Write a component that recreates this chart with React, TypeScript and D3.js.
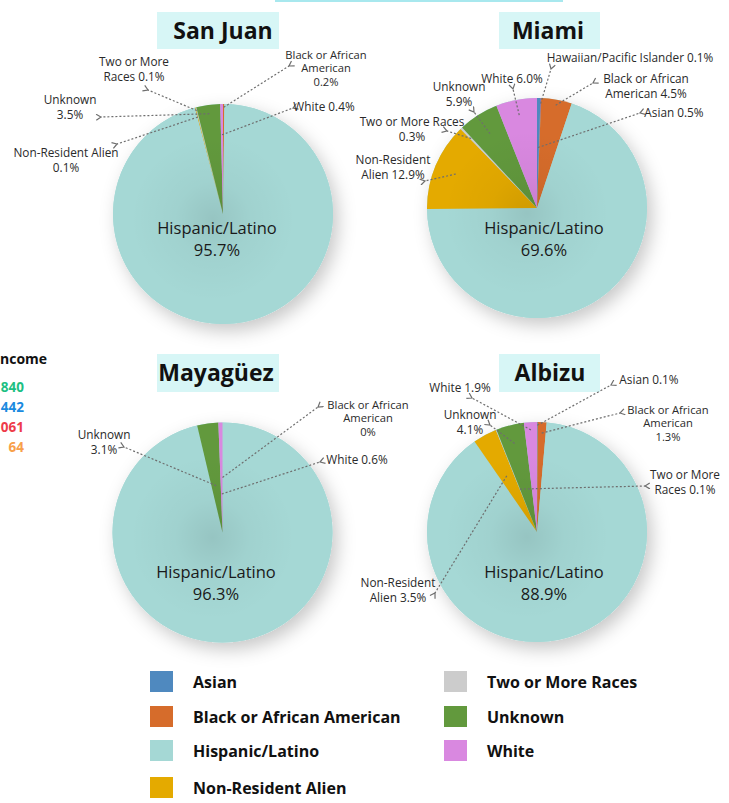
import React from 'react';
import * as d3 from 'd3';

// category order = drawing order (clockwise from 12 o'clock)
const categories = [
  'Asian',
  'Hawaiian/Pacific Islander',
  'Black or African American',
  'Hispanic/Latino',
  'Non-Resident Alien',
  'Two or More Races',
  'Unknown',
  'White',
];
const colors = ['#4f89bf', '#7b5aa6', '#d66c2b', '#a5d8d5', '#e4aa00', '#cccccc', '#62993d', '#d988e0'];

const sanJuanValues = [0, 0, 0.2, 95.7, 0.1, 0.1, 3.5, 0.4];
const miamiValues = [0.5, 0.1, 4.5, 69.6, 12.9, 0.3, 5.9, 6.0];
const mayaguezValues = [0, 0, 0, 96.3, 0, 0, 3.1, 0.6];
const albizuValues = [0.1, 0, 1.3, 88.9, 3.5, 0.1, 4.1, 1.9];

const legendLeft = ['Asian', 'Black or African American', 'Hispanic/Latino', 'Non-Resident Alien'];
const legendRight = ['Two or More Races', 'Unknown', 'White'];

// side panel that is cut by the left edge: only the visible part is drawn
const incomeTitle = 'ncome';
const incomeValues = ['840', '442', '061', '64'];
const incomeColors = ['#1dbf82', '#1a8ae0', '#ee3b4a', '#f8a04a'];

type Note = { cat: string; lines: string[]; x: number; y: number; tip: [number, number]; r: number };

const pies = [
  {
    name: 'San Juan', values: sanJuanValues, cx: 223, cy: 214,
    box: [157, 12, 122, 37], titleX: 223, titleY: 31,
    center: [217, 228],
    notes: [
      { cat: 'Two or More Races', lines: ['Two or More', 'Races 0.1%'], x: 134, y: 62, tip: [148, 90], r: 0.97 },
      { cat: 'Unknown', lines: ['Unknown', '3.5%'], x: 70, y: 100, tip: [101, 117], r: 0.92 },
      { cat: 'Non-Resident Alien', lines: ['Non-Resident Alien', '0.1%'], x: 66, y: 153, tip: [117, 144], r: 0.91 },
      { cat: 'Black or African American', lines: ['Black or African', 'American', '0.2%'], x: 326, y: 55, tip: [289, 66], r: 0.97 },
      { cat: 'White', lines: ['White 0.4%'], x: 324, y: 107, tip: [293, 108], r: 0.72 },
    ] as Note[],
  },
  {
    name: 'Miami', values: miamiValues, cx: 537, cy: 208,
    box: [499, 12, 101, 37], titleX: 548, titleY: 31,
    center: [544, 228],
    notes: [
      { cat: 'Hawaiian/Pacific Islander', lines: ['Hawaiian/Pacific Islander 0.1%'], x: 630, y: 58, tip: [551, 69], r: 0.95 },
      { cat: 'Black or African American', lines: ['Black or African', 'American 4.5%'], x: 646, y: 79, tip: [593, 83], r: 0.95 },
      { cat: 'Asian', lines: ['Asian 0.5%'], x: 674, y: 113, tip: [640, 113], r: 0.55 },
      { cat: 'White', lines: ['White 6.0%'], x: 512, y: 79, tip: [513, 89], r: 0.86 },
      { cat: 'Unknown', lines: ['Unknown', '5.9%'], x: 459, y: 87, tip: [474, 112], r: 0.8 },
      { cat: 'Two or More Races', lines: ['Two or More Races', '0.3%'], x: 412, y: 122, tip: [447, 131], r: 0.87 },
      { cat: 'Non-Resident Alien', lines: ['Non-Resident', 'Alien 12.9%'], x: 393, y: 160, tip: [425, 181], r: 0.8 },
    ] as Note[],
  },
  {
    name: 'Mayagüez', values: mayaguezValues, cx: 222.5, cy: 532.5,
    box: [157, 354, 122, 38], titleX: 216, titleY: 373,
    center: [216, 572],
    notes: [
      { cat: 'Unknown', lines: ['Unknown', '3.1%'], x: 104, y: 435, tip: [124, 447], r: 0.43 },
      { cat: 'Black or African American', lines: ['Black or African', 'American', '0%'], x: 368, y: 405, tip: [318, 407], r: 0.5 },
      { cat: 'White', lines: ['White 0.6%'], x: 357, y: 460, tip: [320, 462], r: 0.35 },
    ] as Note[],
  },
  {
    name: 'Albizu', values: albizuValues, cx: 537, cy: 532,
    box: [499, 354, 101, 38], titleX: 550, titleY: 373,
    center: [544, 572],
    notes: [
      { cat: 'Asian', lines: ['Asian 0.1%'], x: 649, y: 380, tip: [611, 385], r: 0.97 },
      { cat: 'Black or African American', lines: ['Black or African', 'American', '1.3%'], x: 668, y: 410, tip: [620, 413], r: 0.9 },
      { cat: 'Two or More Races', lines: ['Two or More', 'Races 0.1%'], x: 685, y: 475, tip: [645, 486], r: 0.42 },
      { cat: 'White', lines: ['White 1.9%'], x: 460, y: 388, tip: [472, 398], r: 0.93 },
      { cat: 'Unknown', lines: ['Unknown', '4.1%'], x: 470, y: 415, tip: [490, 425], r: 0.83 },
      { cat: 'Non-Resident Alien', lines: ['Non-Resident', 'Alien 3.5%'], x: 398, y: 583, tip: [435, 593], r: 0.58 },
    ] as Note[],
  },
];

const R = 110;
const font = "'Open Sans', 'Noto Sans', sans-serif";

const pieGen = d3.pie<number>().sort(null).value(d => d);
const arcGen = d3.arc<d3.PieArcDatum<number>>().innerRadius(0).outerRadius(R);
const color = d3.scaleOrdinal<string, string>().domain(categories).range(colors);

export default function App() {
  return (
    <svg width={729} height={803} style={{ position: 'absolute', left: 0, top: 0, background: '#fff' }}>
      <defs>
        <filter id="shadow" x="-30%" y="-30%" width="170%" height="170%">
          <feDropShadow dx="5" dy="7" stdDeviation="9" floodColor="#000" floodOpacity="0.22" />
        </filter>
        <radialGradient id="shade">
          <stop offset="0%" stopColor="#000" stopOpacity="0.09" />
          <stop offset="45%" stopColor="#000" stopOpacity="0.03" />
          <stop offset="100%" stopColor="#000" stopOpacity="0" />
        </radialGradient>
        <marker id="tip" viewBox="0 0 6 6" refX="1" refY="3" markerWidth="6" markerHeight="6" orient="auto-start-reverse">
          <path d="M5,0.5 L1,3 L5,5.5" fill="none" stroke="#6e6e6e" strokeWidth="1" />
        </marker>
      </defs>

      <rect x={275} y={0} width={288} height={2} fill="#a8e8ee" />

      {/* income panel, cut by the left edge */}
      <text x={0} y={364} fontFamily={font} fontWeight={700} fontSize={14} fill="#111">{incomeTitle}</text>
      {incomeValues.map((v, i) => (
        <text key={v} x={24} y={392 + i * 20} textAnchor="end" fontFamily={font} fontWeight={700} fontSize={13.5} fill={incomeColors[i]}>{v}</text>
      ))}

      {pies.map(p => {
        const arcs = pieGen(p.values);
        return (
          <g key={p.name}>
            <rect x={p.box[0]} y={p.box[1]} width={p.box[2]} height={p.box[3]} fill="#d7f6f6" />
            <text x={p.titleX} y={p.titleY} dy="0.35em" textAnchor="middle" fontFamily={font} fontWeight={700} fontSize={23} fill="#111">{p.name}</text>
            <g transform={`translate(${p.cx},${p.cy})`}>
              <circle r={R} fill="#a5d8d5" filter="url(#shadow)" />
              {arcs.map((a, i) => a.value > 0 && (
                <path key={categories[i]} d={arcGen(a) || ''} fill={color(categories[i])} />
              ))}
              <circle r={R * 0.75} cx={-10} cy={5} fill="url(#shade)" />
            </g>
            <text x={p.center[0]} y={p.center[1]} dy="0.35em" textAnchor="middle" fontFamily={font} fontSize={16.5} fill="#1a1a1a">Hispanic/Latino</text>
            <text x={p.center[0]} y={p.center[1] + 22} dy="0.35em" textAnchor="middle" fontFamily={font} fontSize={16.5} fill="#1a1a1a">
              {p.values[categories.indexOf('Hispanic/Latino')].toFixed(1)}%
            </text>
            {p.notes.map(n => {
              const a = arcs[categories.indexOf(n.cat)];
              const mid = (a.startAngle + a.endAngle) / 2;
              const sx = p.cx + Math.sin(mid) * R * n.r;
              const sy = p.cy - Math.cos(mid) * R * n.r;
              const three = n.lines.length > 2;
              return (
                <g key={n.cat}>
                  <line x1={sx} y1={sy} x2={n.tip[0]} y2={n.tip[1]} stroke="#6e6e6e" strokeWidth={1.2} strokeDasharray="2,2" markerEnd="url(#tip)" />
                  {n.lines.map((l, j) => (
                    <text key={j} x={n.x} y={n.y + j * (three ? 13.5 : 15)} dy="0.35em" textAnchor="middle" fontFamily={font} fontSize={three ? 11.2 : 11.8} fill="#2a2a2a">{l}</text>
                  ))}
                </g>
              );
            })}
          </g>
        );
      })}

      {/* legend */}
      {[legendLeft, legendRight].map((col, c) =>
        col.map((name, i) => {
          const ys = [671, 706, 740, 777];
          const x = c === 0 ? 150 : 444;
          return (
            <g key={name}>
              <rect x={x} y={ys[i]} width={23} height={21} fill={color(name)} />
              <text x={x + 43} y={ys[i] + 11} dy="0.35em" fontFamily={font} fontWeight={700} fontSize={16} fill="#111">{name}</text>
            </g>
          );
        })
      )}
    </svg>
  );
}
